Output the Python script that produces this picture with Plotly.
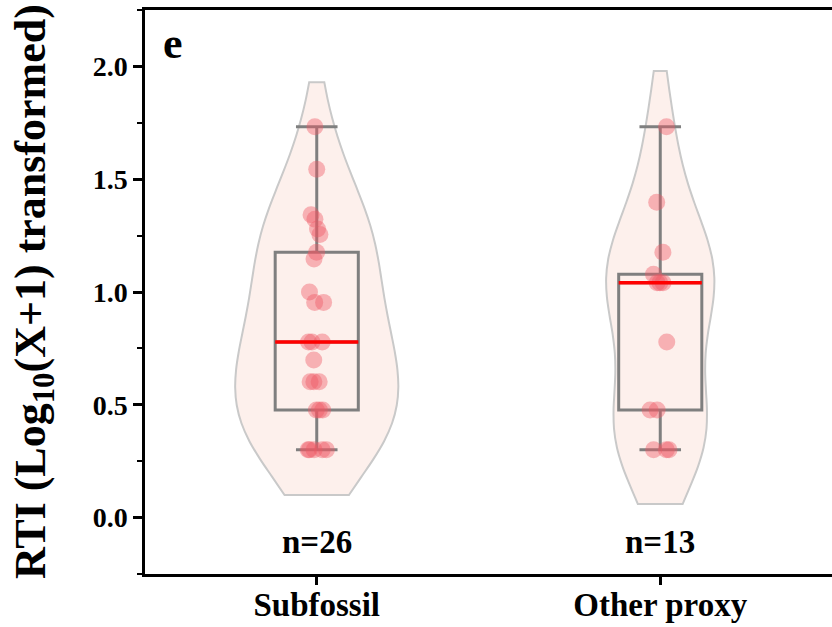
import numpy as np
import plotly.graph_objects as go

# ---------------- data ----------------
categories = ["Subfossil", "Other proxy"]
subfossil = [1.732, 1.544, 1.342, 1.322, 1.279, 1.255, 1.176, 1.146, 1.000,
             0.954, 0.954, 0.778, 0.778, 0.778, 0.699, 0.602, 0.602, 0.602,
             0.477, 0.477, 0.477, 0.301, 0.301, 0.301, 0.301, 0.301]
other_proxy = [1.732, 1.398, 1.176, 1.079, 1.041, 1.041, 1.041, 0.778,
               0.477, 0.477, 0.301, 0.301, 0.301]
series = [subfossil, other_proxy]
y_ticks = [0.0, 0.5, 1.0, 1.5, 2.0]
y_title = "RTI (Log<sub>10</sub>(X+1) transformed)"
panel_label = "e"

# ---------------- style ----------------
FONT = "Liberation Serif"
violin_widths = [0.475, 0.315]
violin_spans = [[0.10, 1.93], [0.06, 1.98]]
violin_bw = [0.24, 0.26]
BOX_W = 0.242

fig = go.Figure()

for i, (cat, vals) in enumerate(zip(categories, series)):
    xs = [cat] * len(vals)
    fig.add_trace(go.Violin(
        x=xs, y=vals, width=violin_widths[i], scalemode="width",
        spanmode="manual", span=violin_spans[i], bandwidth=violin_bw[i],
        fillcolor="#fdf0ec", line=dict(color="#c9c9c9", width=2),
        points=False, box_visible=False, meanline_visible=False,
        showlegend=False, hoverinfo="skip"))

for i, (cat, vals) in enumerate(zip(categories, series)):
    xs = [cat] * len(vals)
    fig.add_trace(go.Box(
        x=xs, y=vals, width=BOX_W, quartilemethod="inclusive",
        boxpoints="all", jitter=0.3, pointpos=0,
        fillcolor="rgba(0,0,0,0)", line=dict(color="#7f7f7f", width=3),
        whiskerwidth=0.5,
        marker=dict(color="rgba(238,88,100,0.42)", size=17, line=dict(width=0)),
        showlegend=False))

for i, (cat, vals) in enumerate(zip(categories, series)):
    med = float(np.median(vals))
    fig.add_trace(go.Box(
        x=[cat], q1=[med], median=[med], q3=[med],
        lowerfence=[med], upperfence=[med], width=BOX_W,
        fillcolor="rgba(0,0,0,0)", line=dict(color="#ff0000", width=3.5),
        whiskerwidth=0, showlegend=False))

for cat, vals in zip(categories, series):
    fig.add_annotation(x=cat, y=-0.11, xref="x", yref="y",
                       text=f"n={len(vals)}", showarrow=False,
                       font=dict(family=FONT, size=33, color="black", weight="bold"))

fig.add_annotation(x=0.024, y=0.94, xref="paper", yref="paper",
                   xanchor="left", yanchor="middle", text=panel_label,
                   showarrow=False,
                   font=dict(family=FONT, size=44, color="black", weight="bold"))

fig.add_annotation(x=-0.163, y=0.5, xref="paper", yref="paper",
                   xanchor="center", yanchor="middle", textangle=-90,
                   text=y_title, showarrow=False,
                   font=dict(family=FONT, size=44, color="black", weight="bold"))

fig.update_layout(
    width=832, height=627,
    margin=dict(l=145, r=0, t=10, b=53, autoexpand=False),
    paper_bgcolor="white", plot_bgcolor="white",
    violinmode="overlay", boxmode="overlay",
    showlegend=False,
    font=dict(family=FONT, color="black"),
)
fig.update_xaxes(
    type="category", categoryorder="array", categoryarray=categories,
    range=[-0.5, 1.5], showgrid=False, zeroline=False, automargin=False,
    showline=True, linecolor="black", linewidth=2.5, mirror=True,
    ticks="outside", ticklen=8, tickwidth=2.5, tickcolor="black",
    ticklabelstandoff=-8,
    tickfont=dict(family=FONT, size=33, color="black", weight="bold"),
)
fig.update_yaxes(
    range=[-0.25, 2.25], showgrid=False, zeroline=False, automargin=False,
    showline=True, linecolor="black", linewidth=2.5, mirror=False,
    tickmode="array", tickvals=y_ticks, ticktext=[f"{v:.1f}" for v in y_ticks],
    ticks="outside", ticklen=9, tickwidth=2.5, tickcolor="black",
    tickfont=dict(family=FONT, size=28, color="black", weight="bold"),
    minor=dict(tickmode="linear", tick0=0.25, dtick=0.5, ticks="outside",
               ticklen=5, tickwidth=2, tickcolor="black"),
)

fig.write_html("out.html")
